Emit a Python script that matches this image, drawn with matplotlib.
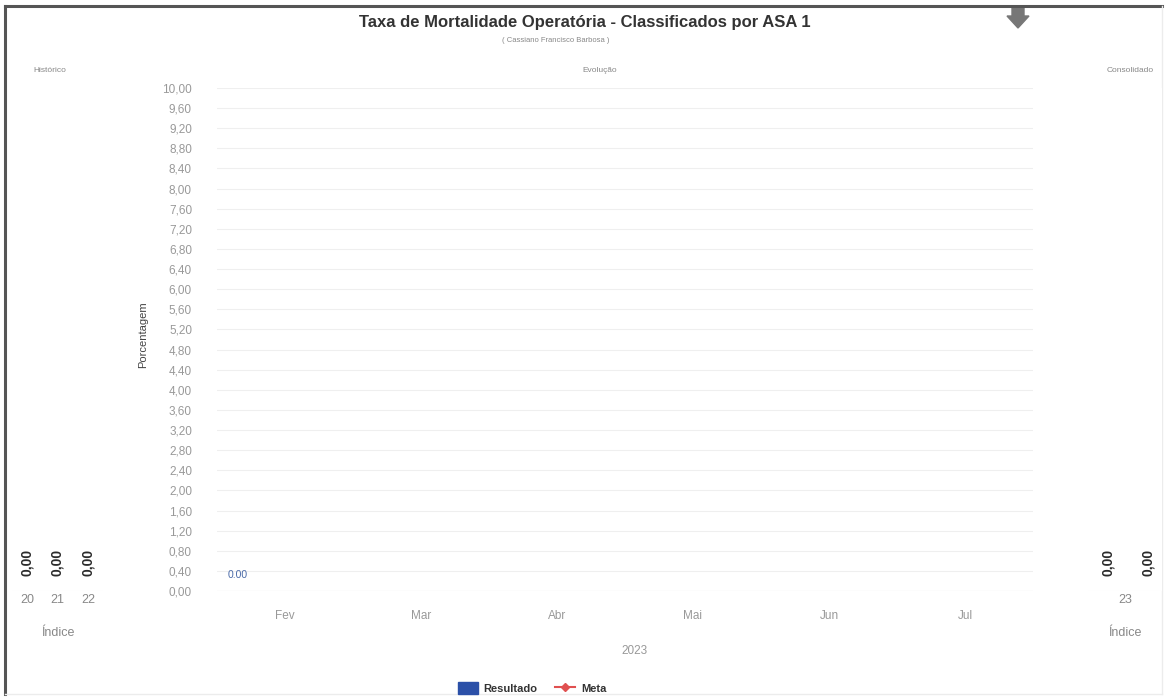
import numpy as np
import matplotlib
matplotlib.use("Agg")
import matplotlib.pyplot as plt
from matplotlib.lines import Line2D
from matplotlib.patches import Patch, Polygon

plt.rcParams['font.family'] = ['Liberation Sans', 'DejaVu Sans']

# ---- data ----
months = ['Fev', 'Mar', 'Abr', 'Mai', 'Jun', 'Jul']
resultado = [0.0, np.nan, np.nan, np.nan, np.nan, np.nan]
meta = [np.nan, np.nan, np.nan, np.nan, np.nan, np.nan]
year_label = '2023'
hist_years = ['20', '21', '22']
hist_values = [0.0, 0.0, 0.0]
cons_years = ['23']
cons_resultado = [0.0]
cons_meta = [0.0]
yticks = [round(0.4 * i, 2) for i in range(26)]

W, H = 1167, 698
fig = plt.figure(figsize=(W / 100, H / 100), dpi=100)
fig.patch.set_facecolor('white')

def ax_px(x0, y0, x1, y1):
    return fig.add_axes([x0 / W, 1 - y1 / H, (x1 - x0) / W, (y1 - y0) / H])

def fmt(v):
    return f'{v:.2f}'.replace('.', ',')

# frame
bg = fig.add_axes([0, 0, 1, 1], zorder=-5)
bg.set_xlim(0, W); bg.set_ylim(H, 0); bg.axis('off')
bg.plot([5, 5], [6, 694], color='#555555', lw=2.2)
bg.plot([5, 1162], [6, 6], color='#555555', lw=2.2)
bg.plot([1162, 1162], [6, 694], color='#ececec', lw=1)
bg.plot([5, 1162], [694, 694], color='#ececec', lw=1)
# download arrow icon
bg.add_patch(Polygon([[1012, 8], [1024, 8], [1024, 16], [1029, 16], [1018, 28], [1007, 16], [1012, 16]],
                     closed=True, color='#777777'))

fig.text(585 / W, 1 - 22 / H, 'Taxa de Mortalidade Operatória - Classificados por ASA 1',
         ha='center', va='center', fontsize=12, fontweight='bold', color='#333333')
fig.text(556 / W, 1 - 41 / H, '( Cassiano Francisco Barbosa )', ha='center', va='center',
         fontsize=5.5, color='#888888')
fig.text(50 / W, 1 - 71 / H, 'Histórico', ha='center', va='center', fontsize=6, color='#888888')
fig.text(600 / W, 1 - 71 / H, 'Evolução', ha='center', va='center', fontsize=6, color='#888888')
fig.text(1130 / W, 1 - 71 / H, 'Consolidado', ha='center', va='center', fontsize=6, color='#888888')

# ---- main axes ----
ax = ax_px(217, 88, 1033, 591)
x = np.arange(len(months))
ax.bar(x, resultado, width=0.6, color='#2b50a8')
ax.plot(x, meta, color='#e05050', marker='D', markersize=4)
for xi, v in zip(x, resultado):
    if not np.isnan(v):
        ax.text(xi - 0.35, v + 0.32, f'{v:.2f}', ha='center', va='center', fontsize=7.5, color='#4a6aa8')
ax.set_xlim(-0.5, len(months) - 0.5)
ax.set_ylim(0, 10)
ax.set_yticks(yticks)
ax.set_yticklabels([fmt(v) for v in yticks])
ax.set_xticks(x)
ax.set_xticklabels(months)
ax.tick_params(axis='both', length=0, colors='#999999', labelsize=8.5)
ax.tick_params(axis='x', pad=14)
ax.tick_params(axis='y', pad=18)
ax.grid(axis='y', color='#efefef', lw=0.8)
ax.set_axisbelow(True)
for s in ax.spines.values():
    s.set_visible(False)
ax.axhline(0, color='#e6e6e6', lw=0.8)
ax.set_ylabel('Porcentagem', fontsize=8, color='#444444')
ax.set_xlabel(year_label, fontsize=8.5, color='#999999')
ax.xaxis.set_label_coords((635 - 217) / (1033 - 217), -(645 - 591) / (591 - 88))
ax.yaxis.set_label_coords(-(217 - 148) / (1033 - 217), (591 - 335) / (591 - 88))

# ---- historico axes ----
axh = ax_px(12, 88, 103, 591)
xh = np.arange(len(hist_years))
axh.bar(xh, hist_values, width=0.6, color='#2b50a8')
for xi, v in zip(xh, hist_values):
    axh.text(xi, v + 0.3, fmt(v), rotation=90, ha='center', va='bottom', fontsize=10,
             fontweight='bold', color='#2a2a2a')
axh.set_xlim(-0.5, len(hist_years) - 0.5)
axh.set_ylim(0, 10)
axh.set_yticks([])
axh.set_xticks(xh)
axh.set_xticklabels(hist_years)
axh.tick_params(axis='x', length=0, colors='#888888', labelsize=9, pad=2)
for s in axh.spines.values():
    s.set_visible(False)
axh.axhline(0, color='#eeeeee', lw=0.8)
axh.set_xlabel('Índice', fontsize=9, color='#888888', labelpad=15)

# ---- consolidado axes ----
axc = ax_px(1088, 88, 1162, 591)
xc = np.arange(len(cons_years))
axc.bar(xc - 0.25, cons_resultado, width=0.3, color='#2b50a8')
for xi, v in zip(xc, cons_resultado):
    axc.text(xi - 0.23, v + 0.3, fmt(v), rotation=90, ha='center', va='bottom', fontsize=10,
             fontweight='bold', color='#2a2a2a')
for xi, v in zip(xc, cons_meta):
    axc.text(xi + 0.31, v + 0.3, fmt(v), rotation=90, ha='center', va='bottom', fontsize=10,
             fontweight='bold', color='#2a2a2a')
axc.set_xlim(-0.5, len(cons_years) - 0.5)
axc.set_ylim(0, 10)
axc.set_yticks([])
axc.set_xticks(xc)
axc.set_xticklabels(cons_years)
axc.tick_params(axis='x', length=0, colors='#888888', labelsize=9, pad=2)
for s in axc.spines.values():
    s.set_visible(False)
axc.axhline(0, color='#eeeeee', lw=0.8)
axc.set_xlabel('Índice', fontsize=9, color='#888888', labelpad=15)

# ---- legend ----
handles = [Patch(facecolor='#2b50a8', edgecolor='#2b50a8', label='Resultado'),
           Line2D([0], [0], color='#e05050', marker='D', markersize=4, lw=1.5, label='Meta')]
leg = fig.legend(handles=handles, loc='center', bbox_to_anchor=(532 / W, 1 - 688 / H), ncol=2,
                 frameon=False, fontsize=8, handlelength=1.8, handleheight=1.3, columnspacing=1.6,
                 handletextpad=0.5)
for t in leg.get_texts():
    t.set_fontweight('bold')
    t.set_color('#333333')

fig.savefig('out.png', dpi=100)
